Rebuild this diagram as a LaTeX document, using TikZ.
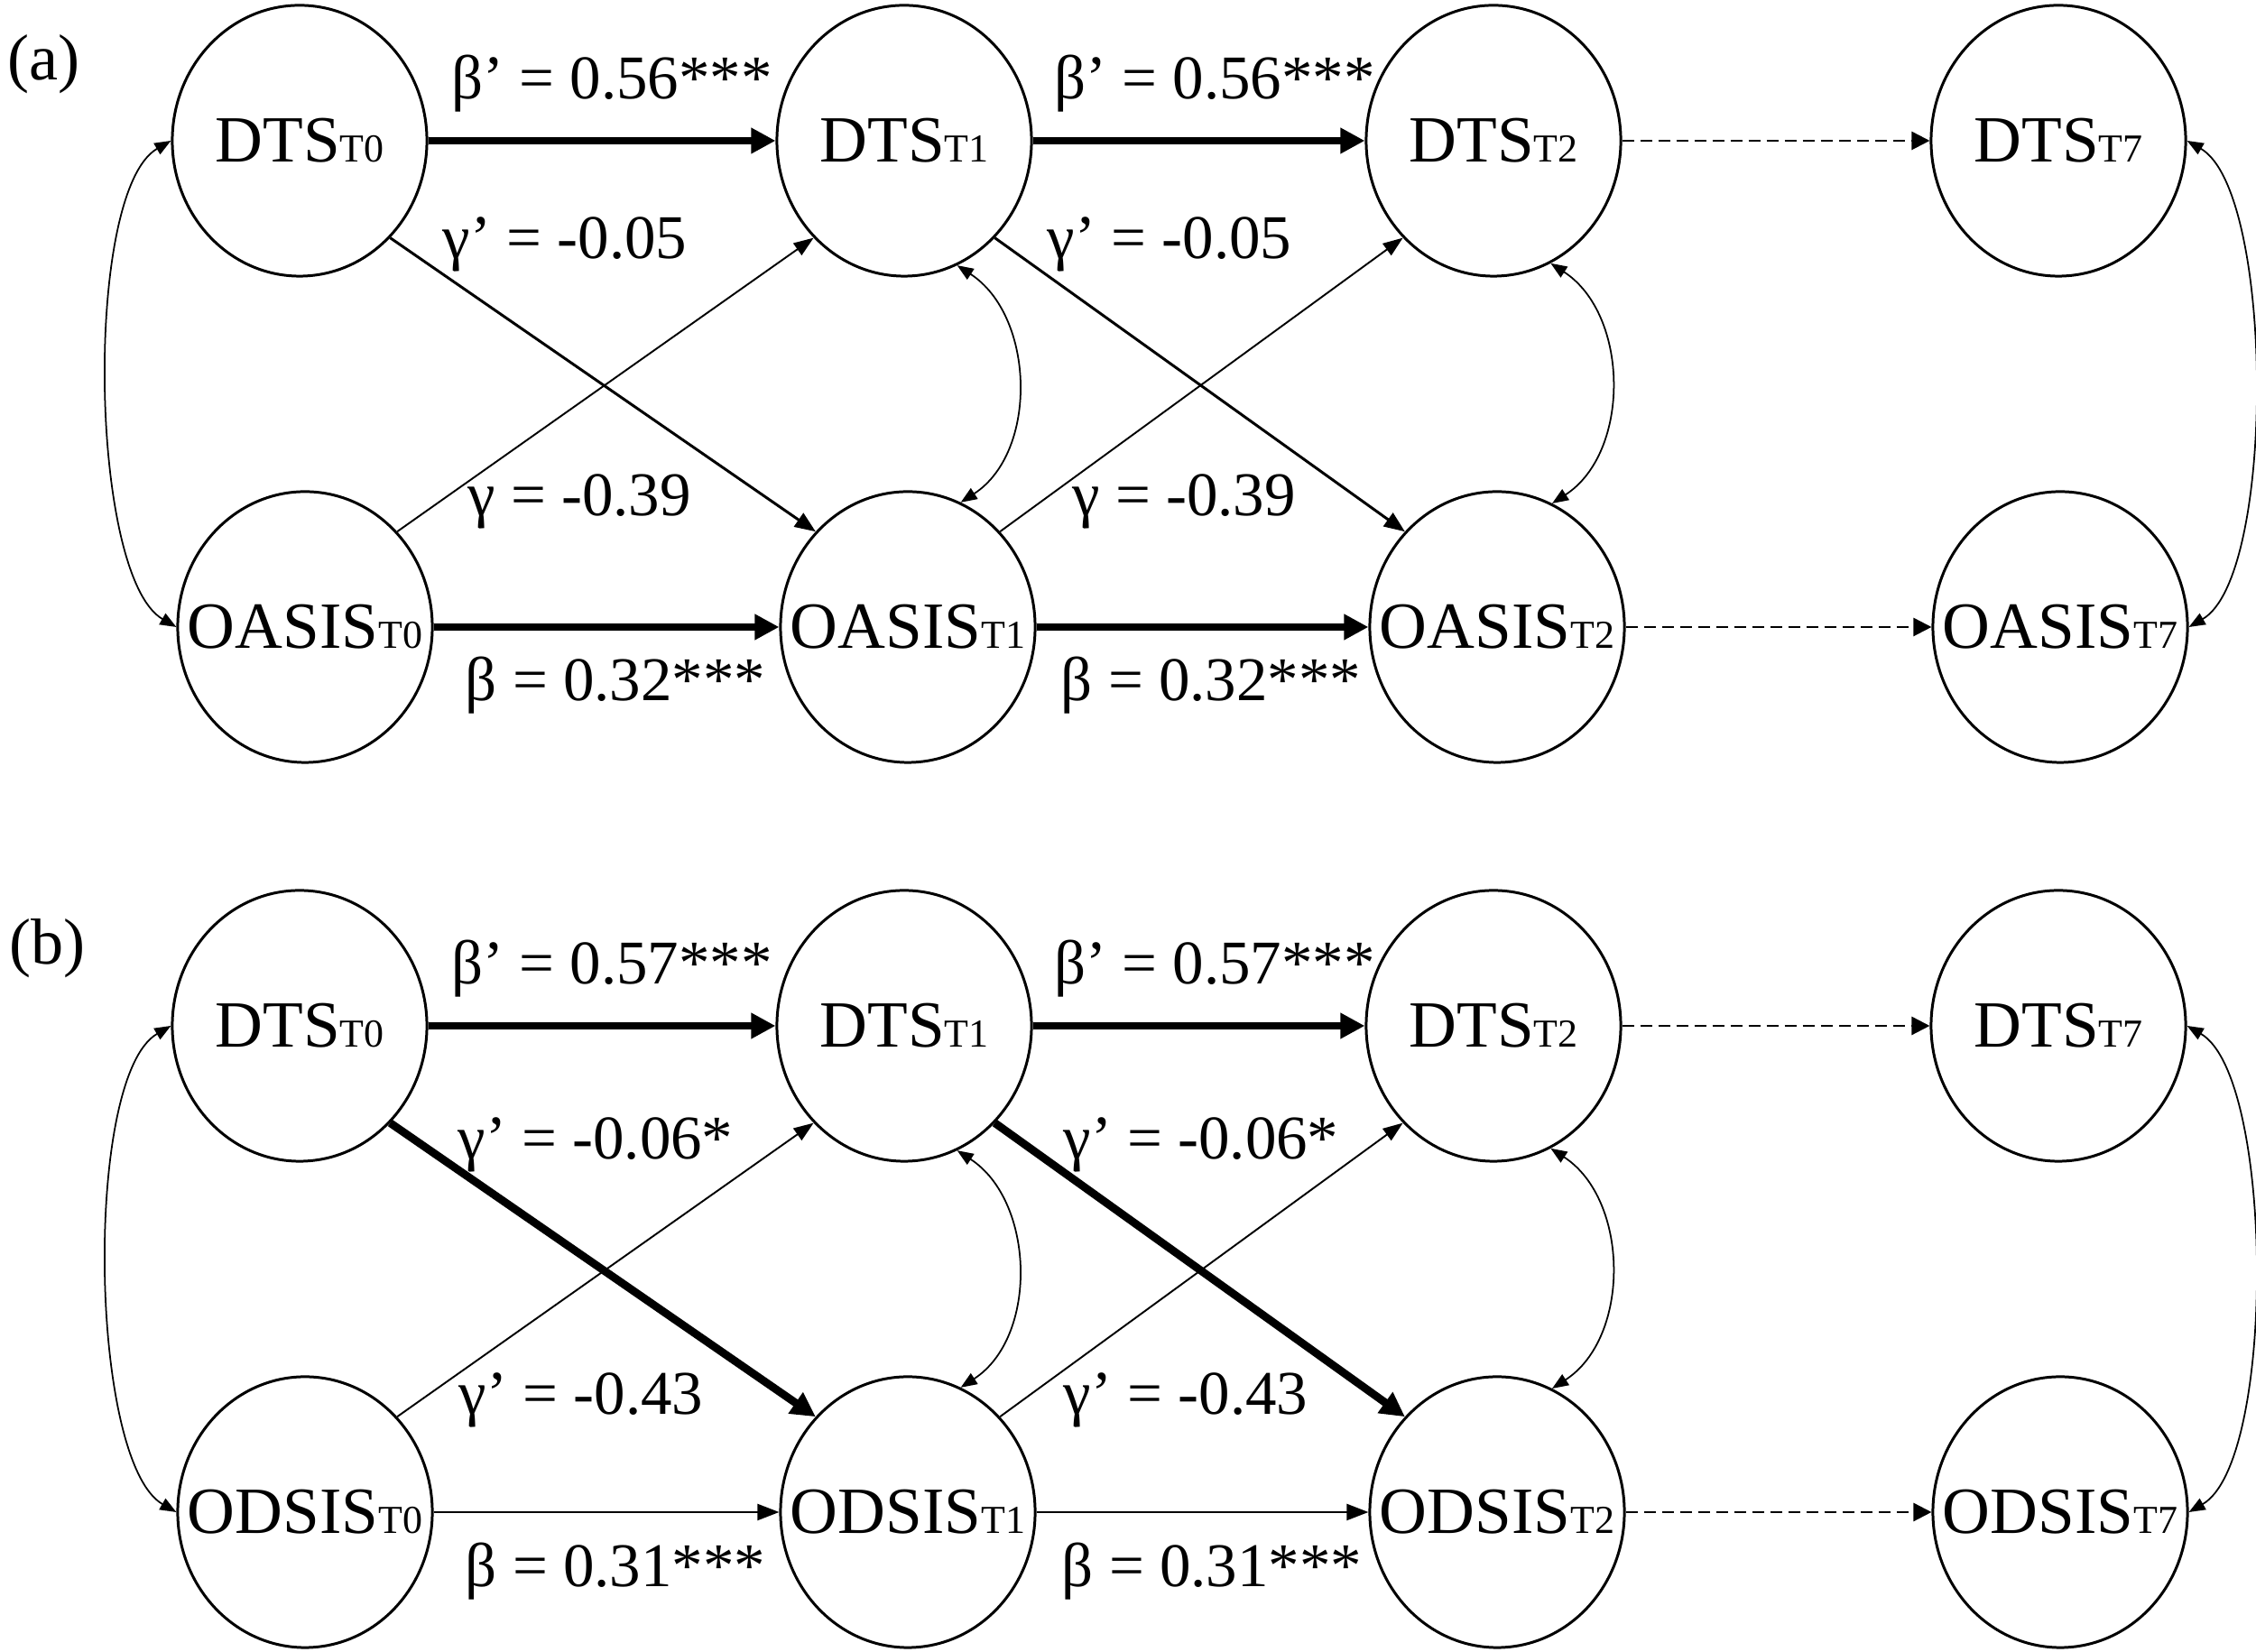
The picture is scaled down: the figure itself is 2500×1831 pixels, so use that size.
\documentclass[tikz,border=0pt]{standalone}
\usepackage{fontspec}
\setmainfont{Liberation Serif}
\usetikzlibrary{arrows.meta,shapes.geometric}
\newcommand{\varlab}[2]{\fontsize{20.8}{24}\selectfont #1{\fontsize{12.5}{14}\selectfont #2}}
\begin{document}
\begin{tikzpicture}[x=0.01cm,y=0.01cm,
  var/.style={ellipse, draw, line width=0.85pt, minimum width=2.82cm, minimum height=3.0cm, inner sep=0pt},
  elab/.style={font=\fontsize{19.6}{22}\selectfont, inner sep=0pt, anchor=base},
  plab/.style={font=\fontsize{20.5}{24}\selectfont, inner sep=0pt, anchor=base west},
  thickarr/.style={line width=2.5pt, -{Triangle[length=0.27cm,width=0.27cm]}},
  medarr/.style={line width=0.85pt, -{Triangle[length=0.23cm,width=0.18cm]}},
  thinarr/.style={line width=0.55pt, -{Triangle[length=0.22cm,width=0.16cm]}},
  thinharr/.style={line width=0.6pt, -{Triangle[length=0.24cm,width=0.18cm]}},
  dasharr/.style={line width=0.7pt, dash pattern=on 0.13cm off 0.07cm, -{Triangle[length=0.2cm,width=0.2cm]}},
  cov/.style={line width=0.5pt, {Triangle[length=0.18cm,width=0.14cm]}-{Triangle[length=0.18cm,width=0.14cm]}}
]
\useasboundingbox (0,0) rectangle (2500,1831);

% ---------------- panel (a) ----------------
\node[plab] (pa) at (8,1742) {(a)};
\node[var, label=center:{\varlab{DTS}{T0}}] (adts0) at (332,1675) {};
\node[var, label=center:{\varlab{DTS}{T1}}] (adts1) at (1002,1675) {};
\node[var, label=center:{\varlab{DTS}{T2}}] (adts2) at (1655,1675) {};
\node[var, label=center:{\varlab{DTS}{T7}}] (adts7) at (2281,1675) {};
\node[var, label=center:{\varlab{OASIS}{T0}}] (aoas0) at (338,1136) {};
\node[var, label=center:{\varlab{OASIS}{T1}}] (aoas1) at (1006,1136) {};
\node[var, label=center:{\varlab{OASIS}{T2}}] (aoas2) at (1659,1136) {};
\node[var, label=center:{\varlab{OASIS}{T7}}] (aoas7) at (2283,1136) {};

\draw[thickarr] (adts0.east) -- (adts1.west);
\draw[thickarr] (adts1.east) -- (adts2.west);
\draw[dasharr] (adts2.east) -- (adts7.west);
\draw[thickarr] (aoas0.east) -- (aoas1.west);
\draw[thickarr] (aoas1.east) -- (aoas2.west);
\draw[dasharr] (aoas2.east) -- (aoas7.west);
\draw[medarr] (adts0.-47) -- (aoas1.134);
\draw[medarr] (adts1.-47) -- (aoas2.134);
\draw[thinarr] (aoas0.46) -- (adts1.-133);
\draw[thinarr] (aoas1.46) -- (adts2.-133);
\draw[cov] (adts0.west) to[out=210,in=150,looseness=0.53] (aoas0.west);
\draw[cov] (adts1.-67) to[out=-33,in=33] (aoas1.67);
\draw[cov] (adts2.-65) to[out=-33,in=33] (aoas2.66);
\draw[cov] (adts7.east) to[out=-30,in=30,looseness=0.53] (aoas7.east);

\node[elab] (la1) at (678,1721) {β’ = 0.56***};
\node[elab] (la2) at (1346,1721) {β’ = 0.56***};
\node[elab] (la3) at (626,1544) {γ’ = -0.05};
\node[elab] (la4) at (1296,1544) {γ’ = -0.05};
\node[elab] (la5) at (642,1259) {γ = -0.39};
\node[elab] (la6) at (1312,1259) {γ = -0.39};
\node[elab] (la7) at (682,1054) {β = 0.32***};
\node[elab] (la8) at (1342,1054) {β = 0.32***};

% ---------------- panel (b) ----------------
\node[plab] (pb) at (10,762) {(b)};
\node[var, label=center:{\varlab{DTS}{T0}}] (bdts0) at (332,694) {};
\node[var, label=center:{\varlab{DTS}{T1}}] (bdts1) at (1002,694) {};
\node[var, label=center:{\varlab{DTS}{T2}}] (bdts2) at (1655,694) {};
\node[var, label=center:{\varlab{DTS}{T7}}] (bdts7) at (2281,694) {};
\node[var, label=center:{\varlab{ODSIS}{T0}}] (bods0) at (338,155) {};
\node[var, label=center:{\varlab{ODSIS}{T1}}] (bods1) at (1006,155) {};
\node[var, label=center:{\varlab{ODSIS}{T2}}] (bods2) at (1659,155) {};
\node[var, label=center:{\varlab{ODSIS}{T7}}] (bods7) at (2283,155) {};

\draw[thickarr] (bdts0.east) -- (bdts1.west);
\draw[thickarr] (bdts1.east) -- (bdts2.west);
\draw[dasharr] (bdts2.east) -- (bdts7.west);
\draw[thinharr] (bods0.east) -- (bods1.west);
\draw[thinharr] (bods1.east) -- (bods2.west);
\draw[dasharr] (bods2.east) -- (bods7.west);
\draw[thickarr] (bdts0.-47) -- (bods1.134);
\draw[thickarr] (bdts1.-47) -- (bods2.134);
\draw[thinarr] (bods0.46) -- (bdts1.-133);
\draw[thinarr] (bods1.46) -- (bdts2.-133);
\draw[cov] (bdts0.west) to[out=210,in=150,looseness=0.53] (bods0.west);
\draw[cov] (bdts1.-67) to[out=-33,in=33] (bods1.67);
\draw[cov] (bdts2.-65) to[out=-33,in=33] (bods2.66);
\draw[cov] (bdts7.east) to[out=-30,in=30,looseness=0.53] (bods7.east);

\node[elab] (lb1) at (678,740) {β’ = 0.57***};
\node[elab] (lb2) at (1346,740) {β’ = 0.57***};
\node[elab] (lb3) at (660,546) {γ’ = -0.06*};
\node[elab] (lb4) at (1331,546) {γ’ = -0.06*};
\node[elab] (lb5) at (644,263) {γ’ = -0.43};
\node[elab] (lb6) at (1314,263) {γ’ = -0.43};
\node[elab] (lb7) at (682,72) {β = 0.31***};
\node[elab] (lb8) at (1343,72) {β = 0.31***};
\end{tikzpicture}
\end{document}
